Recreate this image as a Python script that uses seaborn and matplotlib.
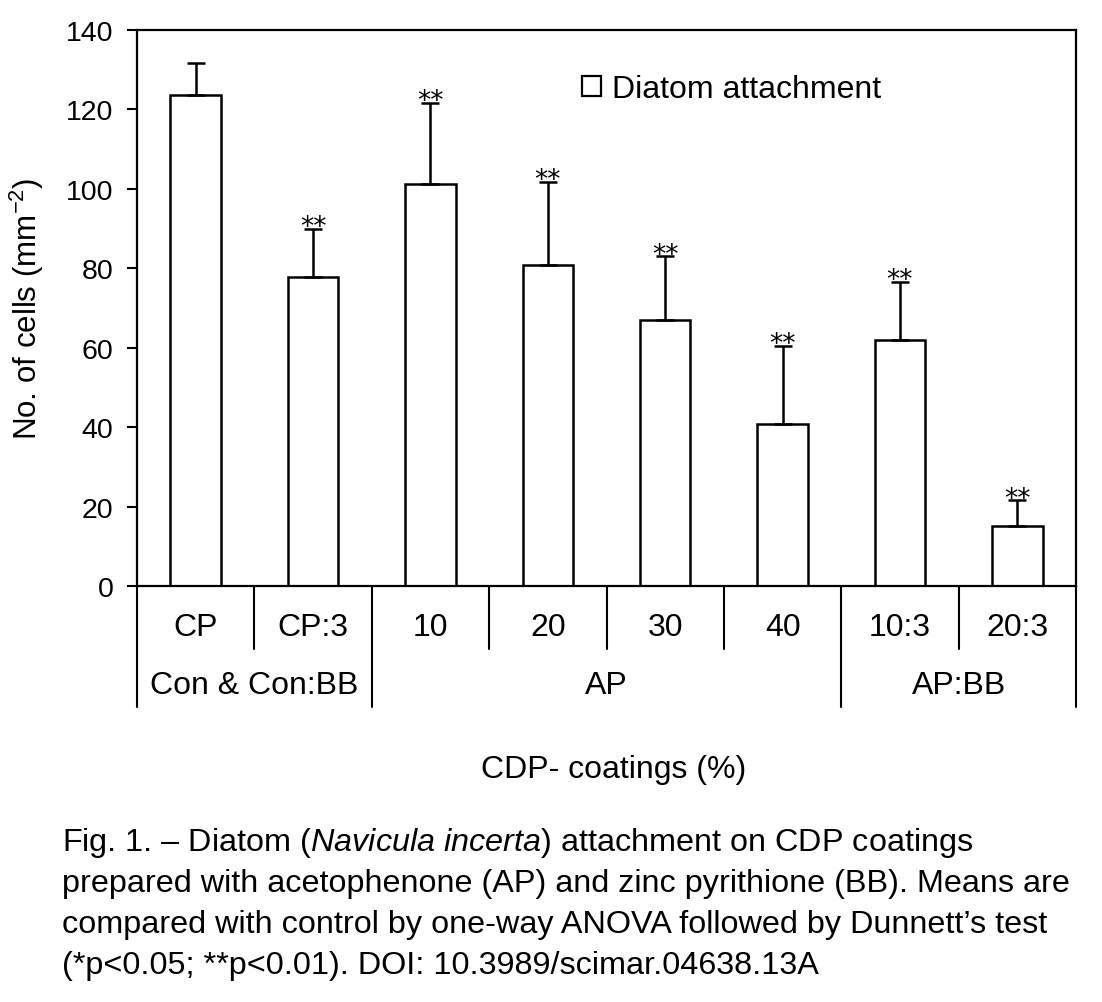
import matplotlib
matplotlib.use("Agg")
import matplotlib.pyplot as plt
import matplotlib.transforms as mtransforms
from matplotlib.patches import Patch
import seaborn as sns
import numpy as np

# ---- data ----
categories = ["CP", "CP:3", "10", "20", "30", "40", "10:3", "20:3"]
means = [123.7, 77.8, 101.3, 80.9, 67.0, 40.8, 62.0, 15.1]
errors_up = [8.0, 12.2, 20.4, 20.9, 16.0, 19.7, 14.6, 6.5]
signif = ["", "**", "**", "**", "**", "**", "**", "**"]
groups = ["Con & Con:BB", "AP", "AP:BB"]
group_sizes = [2, 4, 2]
yticks = [0, 20, 40, 60, 80, 100, 120, 140]
legend_label = "Diatom attachment"
xlabel = "CDP- coatings (%)"
caption_lines = [
    r"Fig. 1. – Diatom ($\it{Navicula\ incerta}$) attachment on CDP coatings",
    "prepared with acetophenone (AP) and zinc pyrithione (BB). Means are",
    "compared with control by one-way ANOVA followed by Dunnett’s test",
    "(*p<0.05; **p<0.01). DOI: 10.3989/scimar.04638.13A",
]

sns.set_style("ticks")
plt.rcParams["font.family"] = ["Liberation Sans", "DejaVu Sans"]
plt.rcParams["mathtext.fontset"] = "custom"
plt.rcParams["mathtext.rm"] = "Liberation Sans"
plt.rcParams["mathtext.it"] = "Liberation Sans:italic"
for k in ["text.color", "axes.labelcolor", "xtick.color", "ytick.color"]:
    plt.rcParams[k] = "black"

W, H = 1102, 1003
fig = plt.figure(figsize=(W / 100, H / 100), dpi=100)
ax_left, ax_right, ax_top, ax_bottom = 137, 1076, 31, 587
ax = fig.add_axes([ax_left / W, 1 - ax_bottom / H, (ax_right - ax_left) / W,
                   (ax_bottom - ax_top) / H])

sns.barplot(x=categories, y=means, order=categories, color="white",
            saturation=1, edgecolor="black", linewidth=1.8, width=0.43,
            errorbar=None, ax=ax)
xpos = np.arange(len(categories))
ax.errorbar(xpos, means, yerr=[np.zeros(len(means)), errors_up], fmt="none",
            ecolor="black", elinewidth=1.8, capsize=6.5, capthick=1.8, zorder=3)
for x, m, e, s in zip(xpos, means, errors_up, signif):
    if s:
        ax.text(x, m + e + 0.4, s, ha="center", va="center", fontsize=19,
                family="DejaVu Sans")

ax.set_xlim(-0.5, len(categories) - 0.5)
ax.set_ylim(0, 140)
ax.set_yticks(yticks)
ax.tick_params(axis="y", labelsize=20.5, length=7, width=1.5, pad=10, direction="out")
ax.set_xticks(xpos)
ax.set_xticklabels(categories)
ax.tick_params(axis="x", labelsize=23, length=0, pad=19)
ax.set_xlabel("")
ax.set_ylabel(r"No. of cells (mm$^{\mathregular{-2}}$)", fontsize=22.5)
ax.yaxis.set_label_coords((46 - ax_left) / (ax_right - ax_left), 0.5)
for sp in ax.spines.values():
    sp.set_visible(True)
    sp.set_linewidth(1.6)
    sp.set_color("black")

# separator lines below the axis
trans = mtransforms.blended_transform_factory(ax.transData, ax.transAxes)
bounds = np.cumsum([0] + group_sizes) - 0.5
short_y = (ax_bottom - 650) / (ax_bottom - ax_top)
long_y = (ax_bottom - 708) / (ax_bottom - ax_top)
for b in np.arange(-0.5, len(categories)):
    yend = long_y if b in bounds else short_y
    ax.plot([b, b], [0, yend], transform=trans, color="black", lw=1.5,
            clip_on=False)
group_y = (ax_bottom - 686) / (ax_bottom - ax_top)
for g, lo, hi in zip(groups, bounds[:-1], bounds[1:]):
    ax.text((lo + hi) / 2, group_y, g, transform=trans, ha="center",
            va="center", fontsize=23)

fig.text(614 / W, 1 - 770 / H, xlabel, ha="center", va="center", fontsize=23)

handle = Patch(facecolor="white", edgecolor="black", linewidth=1.6)
ax.legend([handle], [legend_label], loc="upper left",
          bbox_to_anchor=((582 - ax_left) / (ax_right - ax_left),
                          (ax_bottom - 75) / (ax_bottom - ax_top)),
          frameon=False, fontsize=23, handlelength=0.6, handleheight=0.6,
          handletextpad=0.35, borderpad=0, borderaxespad=0)

for i, line in enumerate(caption_lines):
    fig.text(62 / W, 1 - (843 + i * 41) / H, line, ha="left", va="center",
             fontsize=23.3)

fig.savefig("out.png", dpi=100)
